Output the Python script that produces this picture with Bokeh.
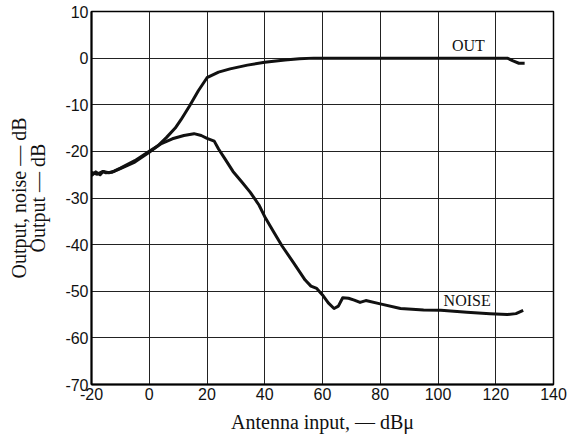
from bokeh.plotting import figure
from bokeh.models import Range1d, FixedTicker, Label
from bokeh.embed import file_html
from bokeh.resources import INLINE

# ---- data ----
x_ticks = [-20, 0, 20, 40, 60, 80, 100, 120, 140]
y_ticks = [-70, -60, -50, -40, -30, -20, -10, 0, 10]

out_x = [-20, -18.5, -17, -16, -15, -13, -10, -5, 0, 3, 6, 9, 11, 14, 17, 20,
         24, 28, 34, 40, 47, 52, 57, 70, 90, 110, 124, 126, 128, 130]
out_y = [-25.2, -24.4, -25.0, -24.3, -24.6, -24.5, -23.7, -22.3, -20.2, -18.8,
         -17.0, -15.0, -13.2, -10.2, -7.0, -4.2, -3.0, -2.3, -1.5, -0.9, -0.4,
         -0.15, 0, 0, 0, 0, 0, -0.6, -1.1, -1.1]

noise_x = [-20, -18, -16, -14, -12, -10, -5, 0, 4, 8, 12, 15.5, 18, 20, 22.5,
           24, 26, 29, 32, 35, 38, 40, 43, 46, 50, 54, 56, 58, 60, 62, 64,
           65.5, 67, 69, 71, 73, 75, 80, 87, 95, 101, 110, 118, 124, 127, 129.5]
noise_y = [-24.5, -24.9, -24.3, -24.6, -24.2, -23.6, -22.0, -20.0, -18.4, -17.3,
           -16.6, -16.2, -16.6, -17.2, -17.8, -19.5, -21.4, -24.3, -26.5, -28.8,
           -31.5, -34.0, -37.2, -40.3, -43.9, -47.6, -48.9, -49.4, -50.8, -52.5,
           -53.7, -53.2, -51.4, -51.5, -51.9, -52.4, -52.0, -52.7, -53.7, -54.0,
           -54.1, -54.5, -54.8, -55.0, -54.8, -54.1]

curve_labels = ["OUT", "NOISE"]
label_x = [110.5, 110.1]
label_y = [0.9, -53.7]

y_label_lines = ["Output, noise \u2014 dB", "Output \u2014 dB"]
x_label_text = "Antenna input, \u2014 dB\u03bc"

SERIF = "Liberation Serif"
SANS = "Liberation Sans"

p = figure(width=577, height=441,
           x_range=Range1d(-20, 140), y_range=Range1d(-70, 10),
           output_backend="svg", toolbar_location=None,
           min_border_left=91, min_border_right=24,
           min_border_top=11, min_border_bottom=57)
p.background_fill_color = "white"
p.border_fill_color = "white"
p.outline_line_color = "black"
p.outline_line_width = 1.5

# grid
p.xgrid.ticker = FixedTicker(ticks=x_ticks)
p.ygrid.ticker = FixedTicker(ticks=y_ticks)
for g in (p.xgrid, p.ygrid):
    g.grid_line_color = "#222222"
    g.grid_line_width = 1
    g.grid_line_alpha = 1.0

# axes
p.xaxis.ticker = FixedTicker(ticks=x_ticks)
p.yaxis.ticker = FixedTicker(ticks=y_ticks)
p.xaxis.major_label_overrides = {t: str(t) for t in x_ticks}
p.yaxis.major_label_overrides = {t: str(t) for t in y_ticks}
for ax in (p.xaxis, p.yaxis):
    ax.axis_line_color = "black"
    ax.axis_line_width = 2
    ax.major_tick_in = 0
    ax.major_tick_out = 0
    ax.minor_tick_line_color = None
    ax.major_label_text_font = SANS
    ax.major_label_text_font_size = "16px"
    ax.major_label_text_color = "#111111"
    ax.major_label_standoff = 3
    ax.axis_label_text_font = SERIF
    ax.axis_label_text_font_style = "normal"
    ax.axis_label_text_font_size = "20px"
    ax.axis_label_text_color = "#111111"

p.xaxis.axis_label = x_label_text
p.xaxis.axis_label_standoff = 8
p.yaxis.axis_label = "\n".join(y_label_lines)
p.yaxis.axis_label_text_line_height = 0.9
p.yaxis.axis_label_standoff = 13

# curves
p.line(out_x, out_y, line_color="#111111", line_width=3, line_join="round")
p.line(noise_x, noise_y, line_color="#111111", line_width=3, line_join="round")

for t, lx, ly in zip(curve_labels, label_x, label_y):
    p.add_layout(Label(x=lx, y=ly, text=t, text_font=SERIF,
                       text_font_size="16px", text_align="center",
                       text_baseline="bottom", text_color="#111111"))

open("out.html", "w").write(file_html(p, INLINE))
